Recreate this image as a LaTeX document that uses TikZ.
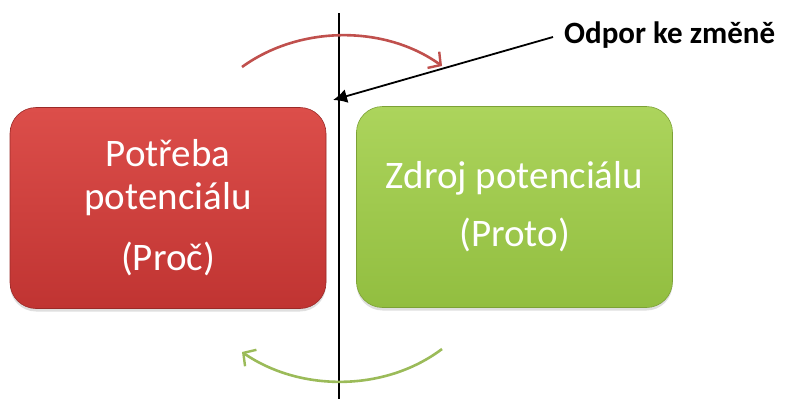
\documentclass[tikz,border=0pt]{standalone}
\usepackage{fontspec}
\setmainfont{Carlito}
\usetikzlibrary{arrows.meta,shadows}
\definecolor{redtop}{RGB}{220,78,74}
\definecolor{redbot}{RGB}{192,52,50}
\definecolor{greentop}{RGB}{172,212,92}
\definecolor{greenbot}{RGB}{146,190,64}
\definecolor{redarc}{RGB}{192,80,77}
\definecolor{greenarc}{RGB}{155,187,89}
\tikzset{
  card/.style={rounded corners=26pt, minimum width=316pt, minimum height=201pt,
    align=center, text=white, font=\fontsize{39}{43}\selectfont,
    drop shadow={opacity=0.25, shadow xshift=0pt, shadow yshift=-3pt}},
  cyclearc/.style={line width=2.6pt, -{Straight Barb[length=9pt,width=20pt,line width=2.4pt]}},
}
\begin{document}
\begin{tikzpicture}[x=1pt,y=-1pt]
  \useasboundingbox (0,0) rectangle (787,399);
  % the two cards
  \node[card, top color=redtop, bottom color=redbot, draw=redbot!80!black, line width=0.6pt]
    (need) at (168,208) {Potřeba\\potenciálu\\[18pt](Proč)};
  \node[card, top color=greentop, bottom color=greenbot, draw=greenbot!85!black, line width=0.6pt]
    (source) at (514.5,207) {Zdroj potenciálu\\[15pt](Proto)};
  % dividing line
  \coordinate (ltop) at (339,13);
  \coordinate (lbot) at (339,399);
  \draw[line width=1.6pt] (ltop) -- (lbot);
  % cycle arcs
  \coordinate (ra) at (242,67);
  \coordinate (rb) at (442,66);
  \draw[cyclearc, redarc] (ra) .. controls (300,25) and (385,25) .. (rb);
  \coordinate (ga) at (442,349);
  \coordinate (gb) at (242,352);
  \draw[cyclearc, greenarc] (ga) .. controls (385,392) and (300,392) .. (gb);
  % label with pointer
  \node[font=\fontsize{31}{34}\selectfont\bfseries, anchor=west, inner sep=0pt] (res) at (564,35) {Odpor ke změně};
  \coordinate (tip) at (333,100);
  \draw[line width=1.8pt, -{Latex[length=14pt,width=14pt]}] (553,37) -- (tip);
\end{tikzpicture}
\end{document}
